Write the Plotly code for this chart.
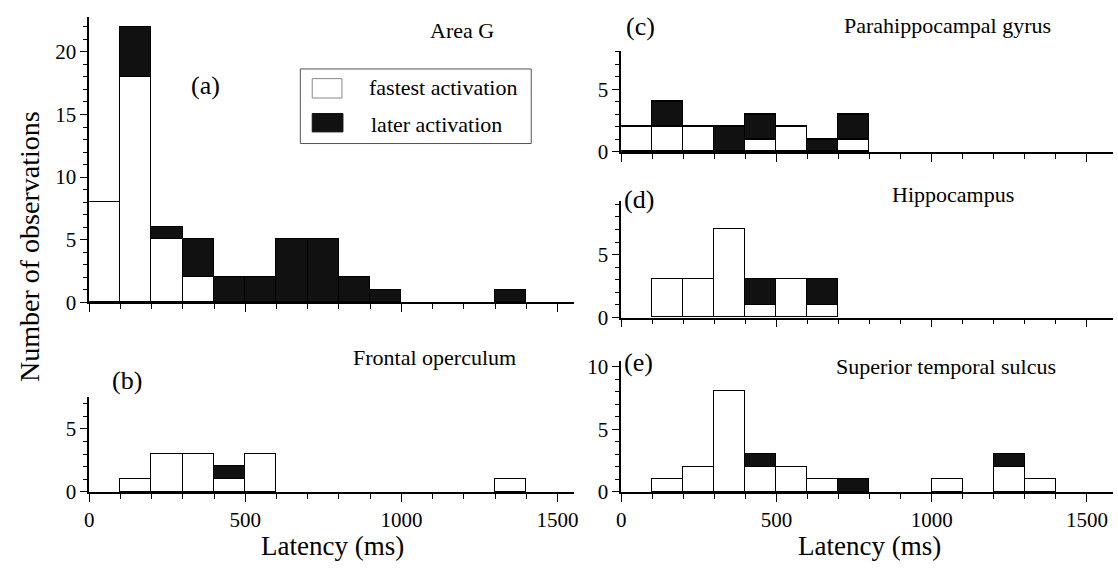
import plotly.graph_objects as go

# ---- data (counts per 100 ms latency bin) ----
bin_left = [0, 100, 200, 300, 400, 500, 600, 700, 800, 900, 1000, 1100, 1200, 1300, 1400]
bin_width = 100

a_fast = [8, 18, 5, 2, 0, 0, 0, 0, 0, 0, 0, 0, 0, 0, 0]
a_late = [0, 4, 1, 3, 2, 2, 5, 5, 2, 1, 0, 0, 0, 1, 0]
b_fast = [0, 1, 3, 3, 1, 3, 0, 0, 0, 0, 0, 0, 0, 1, 0]
b_late = [0, 0, 0, 0, 1, 0, 0, 0, 0, 0, 0, 0, 0, 0, 0]
c_fast = [2, 2, 2, 0, 1, 2, 0, 1, 0, 0, 0, 0, 0, 0, 0]
c_late = [0, 2, 0, 2, 2, 0, 1, 2, 0, 0, 0, 0, 0, 0, 0]
d_fast = [0, 3, 3, 7, 1, 3, 1, 0, 0, 0, 0, 0, 0, 0, 0]
d_late = [0, 0, 0, 0, 2, 0, 2, 0, 0, 0, 0, 0, 0, 0, 0]
e_fast = [0, 1, 2, 8, 2, 2, 1, 0, 0, 0, 1, 0, 2, 1, 0]
e_late = [0, 0, 0, 0, 1, 0, 0, 1, 0, 0, 0, 0, 1, 0, 0]

panel_names = ["Area G", "Frontal operculum", "Parahippocampal gyrus", "Hippocampus", "Superior temporal sulcus"]
panel_tags = ["(a)", "(b)", "(c)", "(d)", "(e)"]
series_names = ["fastest activation", "later activation"]

FONT = "Liberation Serif"
W, H = 1118, 571
centers = [b + bin_width / 2 for b in bin_left]


def nz(vals):
    # empty bins are simply not drawn
    return [v if v else None for v in vals]


fig = go.Figure()
panels = [(a_fast, a_late), (b_fast, b_late), (c_fast, c_late), (d_fast, d_late), (e_fast, e_late)]
for i, (fast, late) in enumerate(panels):
    ax = "" if i == 0 else str(i + 1)
    fig.add_trace(go.Bar(x=centers, y=nz(fast), width=bin_width, name=series_names[0],
                         marker=dict(color="white", line=dict(color="black", width=1.3)),
                         xaxis="x" + ax, yaxis="y" + ax, showlegend=False))
    fig.add_trace(go.Bar(x=centers, y=nz(late), width=bin_width, name=series_names[1],
                         marker=dict(color="#111111", line=dict(color="black", width=1.3)),
                         xaxis="x" + ax, yaxis="y" + ax, showlegend=False))


def px_x(p):
    return p / W


def px_y(p):
    return 1 - p / H


tickfont = dict(family=FONT, size=21, color="black")


def xaxis(domain, rng, labels, anchor):
    return dict(domain=domain, range=rng, anchor=anchor, showgrid=False, zeroline=False,
                showline=True, linecolor="black", linewidth=1.5,
                ticks="outside", ticklen=8, tickwidth=1.2, tickcolor="black",
                tick0=0, dtick=500, showticklabels=labels, tickfont=tickfont,
                minor=dict(dtick=100, tick0=0, ticks="outside", ticklen=5, tickcolor="black", tickwidth=1))


def yaxis(domain, rng, anchor):
    return dict(domain=domain, range=rng, anchor=anchor, showgrid=False, zeroline=False,
                showline=True, linecolor="black", linewidth=1.5,
                ticks="outside", ticklen=7, tickwidth=1.2, tickcolor="black",
                tick0=0, dtick=5, tickfont=tickfont,
                minor=dict(dtick=1, tick0=0, ticks="outside", ticklen=4, tickcolor="black", tickwidth=1))


left_dom = [px_x(85), px_x(574)]
right_dom = [px_x(621.7), 1.0]
left_rng = [0, (574 - 85) / 0.315]
right_rng = [0, (1118 - 621.7) / 0.3133]

fig.update_layout(
    width=W, height=H, margin=dict(l=0, r=0, t=0, b=0),
    paper_bgcolor="white", plot_bgcolor="white", barmode="stack", bargap=0,
    xaxis=xaxis(left_dom, left_rng, False, "y"),
    yaxis=yaxis([px_y(306), px_y(11.7)], [0, 22.76], "x"),
    xaxis2=xaxis(left_dom, left_rng, True, "y2"),
    yaxis2=yaxis([px_y(501.7), px_y(404)], [0, 7.52], "x2"),
    xaxis3=xaxis(right_dom, right_rng, False, "y3"),
    yaxis3=yaxis([px_y(150.7), px_y(46)], [0, 8.09], "x3"),
    xaxis4=xaxis(right_dom, right_rng, False, "y4"),
    yaxis4=yaxis([px_y(321.7), px_y(201.7)], [0, 9.23], "x4"),
    xaxis5=xaxis(right_dom, right_rng, True, "y5"),
    yaxis5=yaxis([px_y(501.7), px_y(366.7)], [0, 10.43], "x5"),
)


def ann(text, x, y, size, xanchor="center", angle=0):
    fig.add_annotation(text=text, x=px_x(x), y=px_y(y), xref="paper", yref="paper",
                       showarrow=False, xanchor=xanchor, yanchor="middle", textangle=angle,
                       font=dict(family=FONT, size=size, color="black"))


# panel titles and tags
title_pos = [(461, 25), (433, 363), (951, 20), (957, 195), (949, 372)]
tag_pos = [(202, 82), (123, 387), (641, 21), (640, 200), (639, 368)]
for name, tag, tp, gp in zip(panel_names, panel_tags, title_pos, tag_pos):
    ann(name, tp[0], tp[1], 22)
    ann(tag, gp[0], gp[1], 26)

# axis titles
ann("Latency (ms)", 330, 558, 27)
ann("Latency (ms)", 872, 558, 27)
ann("Number of observations", 24, 248, 28, angle=-90)

# legend box (panel a)
fig.add_shape(type="rect", xref="paper", yref="paper", x0=px_x(298), x1=px_x(531),
              y0=px_y(142), y1=px_y(65), line=dict(color="#555", width=1), fillcolor="white")
fig.add_shape(type="rect", xref="paper", yref="paper", x0=px_x(310), x1=px_x(340),
              y0=px_y(95), y1=px_y(75), line=dict(color="#888", width=1), fillcolor="white")
fig.add_shape(type="rect", xref="paper", yref="paper", x0=px_x(310), x1=px_x(341),
              y0=px_y(130), y1=px_y(111), line=dict(color="#111", width=1), fillcolor="#111111")
ann(series_names[0], 365, 84, 22, xanchor="left")
ann(series_names[1], 367, 122, 22, xanchor="left")

fig.write_html("out.html")
